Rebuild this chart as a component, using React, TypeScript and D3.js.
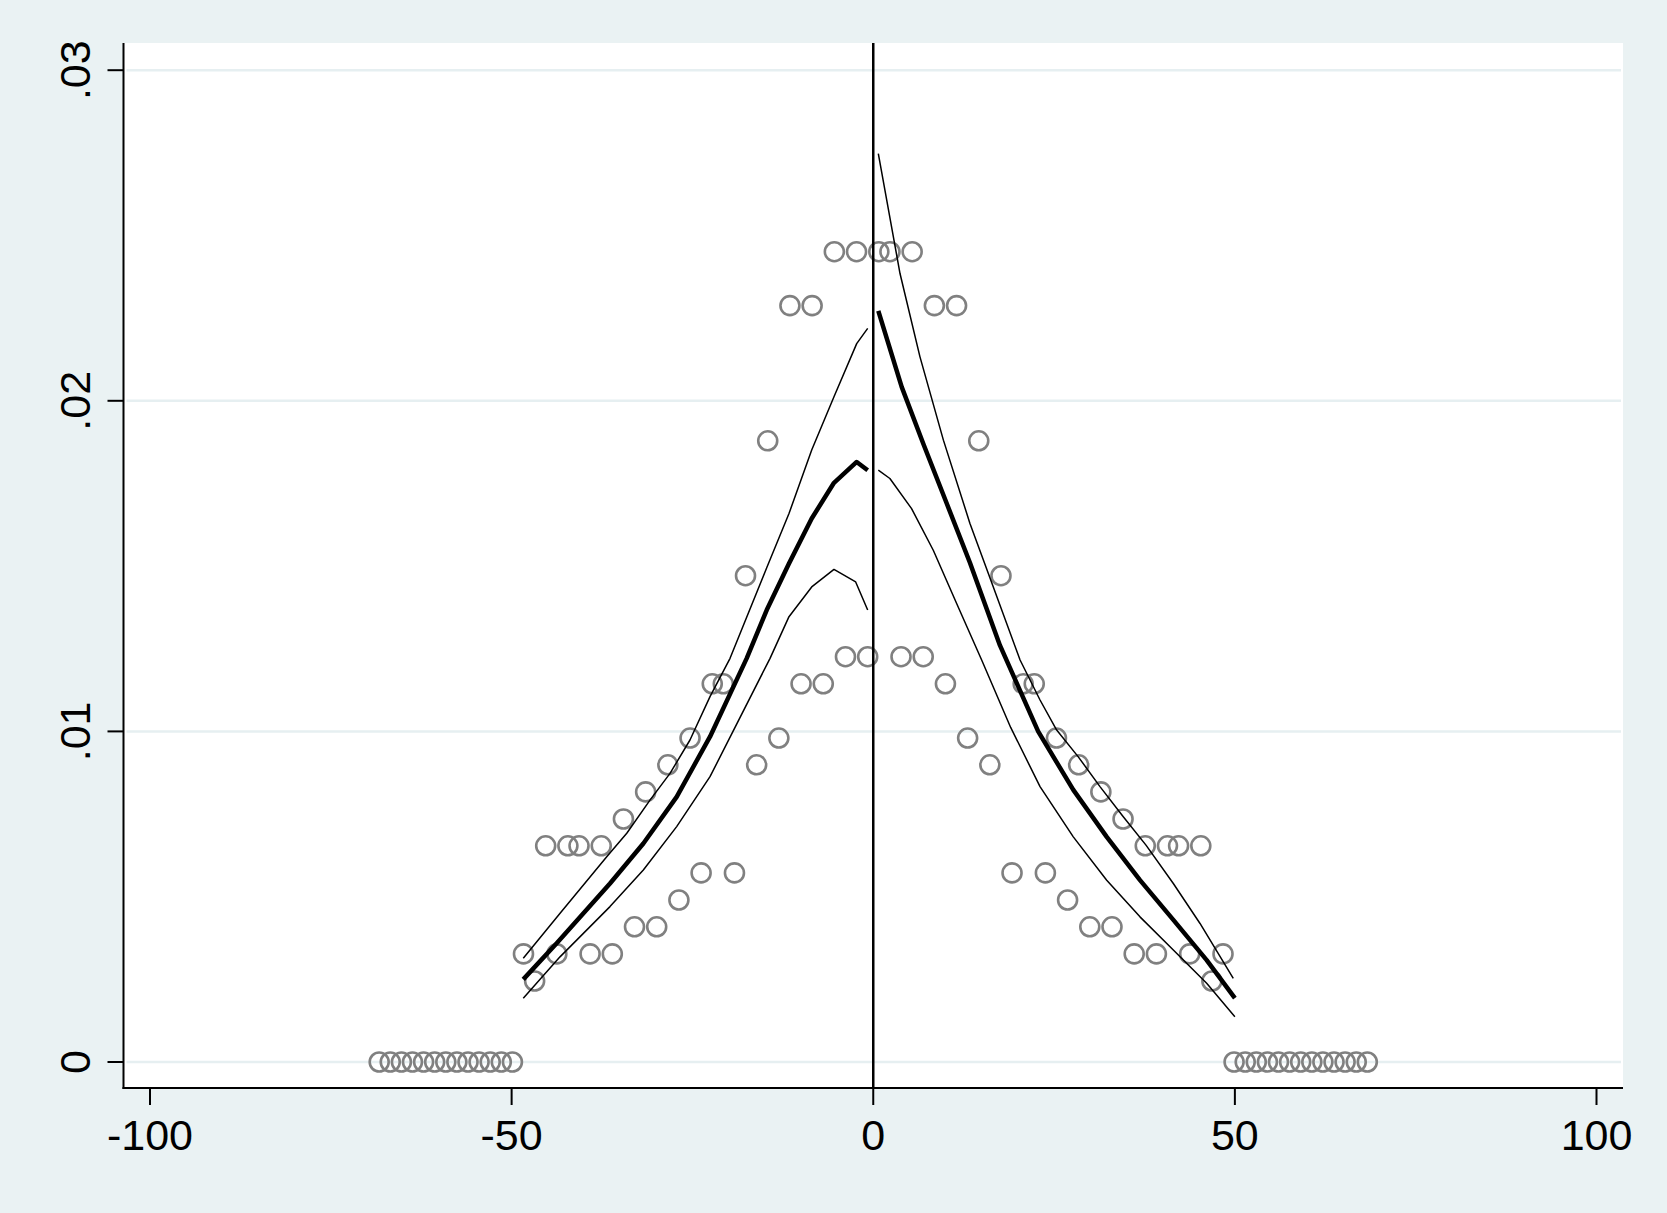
import React from "react";
import * as d3 from "d3";

// bin midpoints (running variable) and density of each bin
const leftX = [
  -0.77, -2.31, -3.84, -5.38, -6.91, -8.45, -9.98, -11.52, -13.05, -14.59, -16.12,
  -17.66, -19.19, -20.73, -22.26, -23.8, -25.33, -26.87, -28.4, -29.94, -31.47,
  -33.01, -34.54, -36.08, -37.61, -39.15, -40.68, -42.22, -43.75, -45.29, -46.82,
  -48.36, -49.89, -51.43, -52.96, -54.5, -56.03, -57.57, -59.1, -60.64, -62.17,
  -63.71, -65.24, -66.78, -68.31,
];
const leftDensity = [
  0.01226, 0.02451, 0.01226, 0.02451, 0.01144, 0.02288, 0.01144, 0.02288, 0.0098,
  0.01879, 0.00899, 0.01471, 0.00572, 0.01144, 0.01144, 0.00572, 0.0098, 0.0049,
  0.00899, 0.00409, 0.00817, 0.00409, 0.00735, 0.00327, 0.00654, 0.00327, 0.00654,
  0.00654, 0.00327, 0.00654, 0.00245, 0.00327, 0, 0, 0, 0, 0, 0, 0, 0, 0, 0, 0, 0, 0,
];
const rightX = [
  0.77, 2.31, 3.84, 5.38, 6.91, 8.45, 9.98, 11.52, 13.05, 14.59, 16.12, 17.66,
  19.19, 20.73, 22.26, 23.8, 25.33, 26.87, 28.4, 29.94, 31.47, 33.01, 34.54, 36.08,
  37.61, 39.15, 40.68, 42.22, 43.75, 45.29, 46.82, 48.36, 49.89, 51.43, 52.96, 54.5,
  56.03, 57.57, 59.1, 60.64, 62.17, 63.71, 65.24, 66.78, 68.31,
];
const rightDensity = [
  0.02451, 0.02451, 0.01226, 0.02451, 0.01226, 0.02288, 0.01144, 0.02288, 0.0098,
  0.01879, 0.00899, 0.01471, 0.00572, 0.01144, 0.01144, 0.00572, 0.0098, 0.0049,
  0.00899, 0.00409, 0.00817, 0.00409, 0.00735, 0.00327, 0.00654, 0.00327, 0.00654,
  0.00654, 0.00327, 0.00654, 0.00245, 0.00327, 0, 0, 0, 0, 0, 0, 0, 0, 0, 0, 0, 0, 0,
];

// fitted density and confidence band, left of cutoff
const fitLeftX = [-48.39, -43.77, -36.4, -31.79, -27.18, -22.57, -17.5, -14.73, -11.65, -8.51, -5.43, -2.29, -0.77];
const fitLeft = [0.0025, 0.00359, 0.0054, 0.00661, 0.00802, 0.00984, 0.01221, 0.01367, 0.01508, 0.01644, 0.01752, 0.01815, 0.0179];
const hiLeftX = [-48.39, -43.3, -36.85, -34.08, -30.87, -28.1, -25.34, -22.57, -19.8, -14.73, -11.65, -8.51, -5.43, -2.29, -0.77];
const hiLeft = [0.00314, 0.0045, 0.00621, 0.00692, 0.00792, 0.00873, 0.00974, 0.01105, 0.01221, 0.01495, 0.01659, 0.01851, 0.02012, 0.02173, 0.02219];
const loLeftX = [-48.39, -43.31, -36.4, -31.79, -27.18, -22.57, -14.27, -11.65, -8.51, -5.43, -2.43, -0.77];
const loLeft = [0.00193, 0.00318, 0.0047, 0.00581, 0.00712, 0.00863, 0.01221, 0.01347, 0.01437, 0.0149, 0.01452, 0.01367];

// fitted density and confidence band, right of cutoff
const fitRightX = [0.7, 3.93, 6.92, 10.15, 13.37, 17.52, 22.8, 27.66, 32.28, 36.88, 41.49, 46.1, 50.0];
const fitRight = [0.02272, 0.02042, 0.0187, 0.0169, 0.0151, 0.0126, 0.01, 0.00823, 0.00681, 0.0055, 0.0043, 0.00308, 0.00193];
const hiRightX = [0.7, 3.7, 6.46, 9.7, 13.37, 16.6, 20.3, 23.06, 25.36, 28.35, 31.35, 34.57, 37.71, 41.49, 45.18, 49.78];
const hiRight = [0.02748, 0.02385, 0.02133, 0.01881, 0.01629, 0.01437, 0.01216, 0.01095, 0.01004, 0.00923, 0.00833, 0.00742, 0.00656, 0.0054, 0.00419, 0.00253];
const loRightX = [0.7, 2.3, 5.3, 8.3, 11.53, 14.99, 19.0, 23.06, 27.66, 32.28, 36.88, 41.49, 46.1, 50.0];
const loRight = [0.0179, 0.01765, 0.01674, 0.01548, 0.01387, 0.01216, 0.01012, 0.00833, 0.00681, 0.0055, 0.00439, 0.00339, 0.00238, 0.00137];

const xTicks = [-100, -50, 0, 50, 100];
const yTicks = [0, 0.01, 0.02, 0.03];
const yTickLabels = ["0", ".01", ".02", ".03"];

const W = 1667;
const H = 1213;
const frame = { left: 123.5, right: 1623, top: 43, bottom: 1088 };
const font = "'Liberation Sans Narrow', 'Arial Narrow', 'Liberation Sans', Arial, sans-serif";

export default function App() {
  const x = d3.scaleLinear().domain([-100, 100]).range([150, 1596.5]);
  const y = d3.scaleLinear().domain([0, 0.03]).range([1062, 70.2]);

  const line = d3.line<[number, number]>().x(d => x(d[0])).y(d => y(d[1]));
  const path = (xs: number[], ys: number[]) => line(xs.map((v, i) => [v, ys[i]])) || "";

  const points = [
    ...leftX.map((v, i) => [v, leftDensity[i]]),
    ...rightX.map((v, i) => [v, rightDensity[i]]),
  ];

  return (
    <svg width={W} height={H} style={{ position: "absolute", left: 0, top: 0, display: "block" }}>
      <rect x={0} y={0} width={W} height={H} fill="#eaf2f3" />
      <rect x={frame.left} y={frame.top} width={frame.right - frame.left} height={frame.bottom - frame.top} fill="#fff" />

      {/* gridlines */}
      {yTicks.map(t => (
        <line key={t} x1={frame.left + 3} x2={frame.right - 2} y1={y(t)} y2={y(t)} stroke="#e6eff1" strokeWidth={2.5} />
      ))}

      {/* markers */}
      {points.map((p, i) => (
        <circle key={i} cx={x(p[0])} cy={y(p[1])} r={9.5} fill="none" stroke="#808080" strokeWidth={2.6} />
      ))}

      {/* fitted lines */}
      <g fill="none" stroke="#000" strokeLinejoin="round">
        <path d={path(hiLeftX, hiLeft)} strokeWidth={1.5} />
        <path d={path(loLeftX, loLeft)} strokeWidth={1.5} />
        <path d={path(fitLeftX, fitLeft)} strokeWidth={4.5} />
        <path d={path(hiRightX, hiRight)} strokeWidth={1.5} />
        <path d={path(loRightX, loRight)} strokeWidth={1.5} />
        <path d={path(fitRightX, fitRight)} strokeWidth={4.5} />
      </g>

      {/* cutoff */}
      <line x1={x(0)} x2={x(0)} y1={frame.top} y2={frame.bottom} stroke="#000" strokeWidth={2.5} />

      {/* axes */}
      <line x1={frame.left} x2={frame.left} y1={frame.top} y2={frame.bottom + 1} stroke="#000" strokeWidth={2} />
      <line x1={frame.left - 1} x2={frame.right} y1={frame.bottom} y2={frame.bottom} stroke="#000" strokeWidth={2} />
      {yTicks.map((t, i) => (
        <g key={t}>
          <line x1={frame.left - 16} x2={frame.left} y1={y(t)} y2={y(t)} stroke="#000" strokeWidth={2} />
          <text
            transform={`translate(90,${y(t)}) rotate(-90)`}
            textAnchor="middle"
            fontFamily={font}
            fontSize={43}
            fill="#000"
          >
            {yTickLabels[i]}
          </text>
        </g>
      ))}
      {xTicks.map(t => (
        <g key={t}>
          <line x1={x(t)} x2={x(t)} y1={frame.bottom} y2={frame.bottom + 17} stroke="#000" strokeWidth={2} />
          <text x={x(t)} y={1150} textAnchor="middle" fontFamily={font} fontSize={43} fill="#000">
            {t}
          </text>
        </g>
      ))}
    </svg>
  );
}
